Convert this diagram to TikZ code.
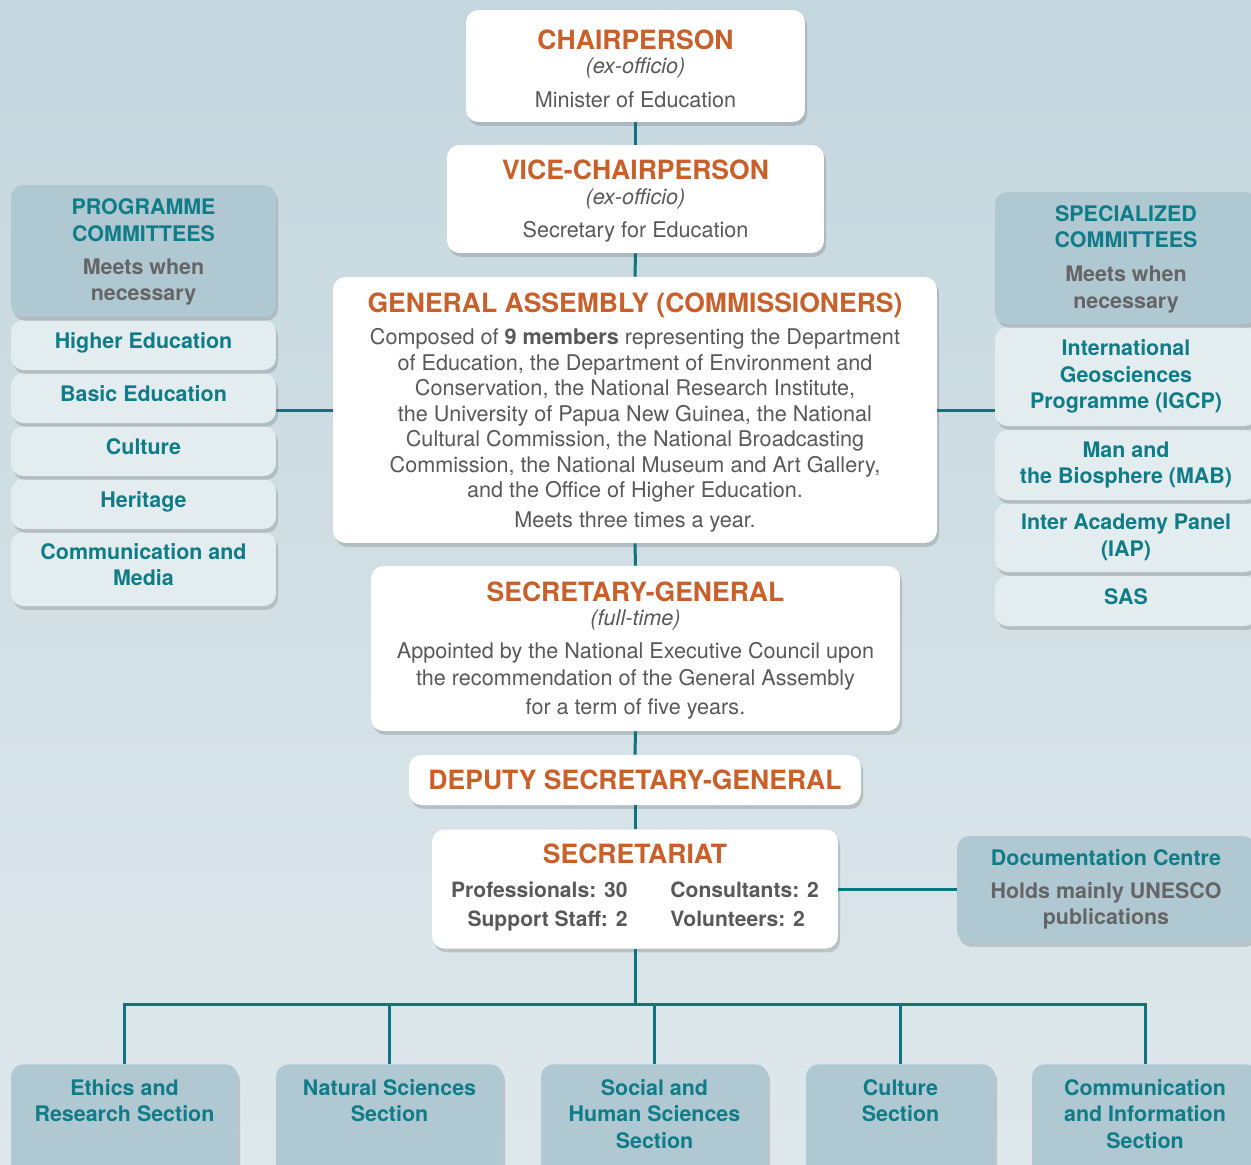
\documentclass[tikz,border=0pt]{standalone}
\usepackage{fontspec}
\setmainfont{TeX Gyre Heros}
\usetikzlibrary{shadows}

\definecolor{bgtop}{HTML}{C4D6DE}
\definecolor{bgbot}{HTML}{DEE8EC}
\definecolor{boxdark}{HTML}{AFC8D2}
\definecolor{boxlight}{HTML}{E3ECEF}
\definecolor{tealtxt}{HTML}{0F7C87}
\definecolor{tealline}{HTML}{0D7480}
\definecolor{orangetxt}{HTML}{C8602B}
\definecolor{graytxt}{HTML}{595959}
\definecolor{graymeet}{HTML}{656565}

\newcommand{\boxtitle}[1]{{\fontsize{15.1}{18}\selectfont\bfseries\color{orangetxt}#1}}
\newcommand{\meet}[1]{{\color{graymeet}#1}}

\begin{document}
\begin{tikzpicture}[x=0.02cm, y=-0.02cm,
  every node/.style={font=\fontsize{12.3}{15}\selectfont, align=center},
  box/.style={rounded corners=7pt, inner sep=0pt,
    drop shadow={shadow xshift=1.2pt, shadow yshift=-2.2pt, opacity=0.22, fill=black!70}},
  mainbox/.style={box, fill=white, text=graytxt},
  headbox/.style={box, fill=boxdark, text=tealtxt, font=\fontsize{12.2}{15}\selectfont\bfseries, text depth=1.5pt},
  itembox/.style={box, fill=boxlight, text=tealtxt, font=\fontsize{12.2}{15}\selectfont\bfseries, text depth=4.8pt},
  secbox/.style={box, fill=boxdark, anchor=north, minimum height=2.6cm},
  sectext/.style={anchor=north, inner sep=0pt, yshift=-8.6pt, text=tealtxt,
    font=\fontsize{12.2}{15}\selectfont\bfseries},
  link/.style={draw=tealline, line width=1.7pt}]

% Canvas
\useasboundingbox (0,0) rectangle (1251,1164);
\clip (0,0) rectangle (1251,1164);
\shade[top color=bgtop, bottom color=bgbot] (0,0) rectangle (1251,1164);

% Main chain
\node[mainbox, minimum width=6.78cm, minimum height=2.24cm, text height=47.4pt, text depth=0pt] (chair) at (635.5,66)
  {\boxtitle{CHAIRPERSON}\\[-1.2pt] \textit{(ex-officio)}\\[4.2pt] Minister of Education};
\node[mainbox, minimum width=7.54cm, minimum height=2.16cm, text depth=0pt] (vice) at (635.5,199)
  {\boxtitle{VICE-CHAIRPERSON}\\[-1.2pt] \textit{(ex-officio)}\\[4.2pt] Secretary for Education};
\node[mainbox, minimum width=12.08cm, minimum height=5.32cm, text depth=0pt,
  font=\fontsize{12.3}{14.5}\selectfont] (assembly) at (635,410)
  {\boxtitle{GENERAL ASSEMBLY (COMMISSIONERS)}\\[3.9pt]
   Composed of \textbf{9 members} representing the Department\\
   of Education, the Department of Environment and\\
   Conservation, the National Research Institute,\\
   the University of Papua New Guinea, the National\\
   Cultural Commission, the National Broadcasting\\
   Commission, the National Museum and Art Gallery,\\
   and the Office of Higher Education.\\[2.5pt]
   Meets three times a year.};
\node[mainbox, minimum width=10.58cm, minimum height=3.3cm, text depth=0.8pt] (secgen) at (635.5,648.5)
  {\boxtitle{SECRETARY-GENERAL}\\[-1.4pt] \textit{(full-time)}\\[4.3pt]
   Appointed by the National Executive Council upon\\
   the recommendation of the General Assembly\\[1.4pt]
   for a term of five years.};
\node[mainbox, minimum width=9.04cm, minimum height=1cm] (deputy) at (635,780)
  {\boxtitle{DEPUTY SECRETARY-GENERAL}};
\node[mainbox, minimum width=8.12cm, minimum height=2.38cm] (secretariat) at (635,889)
  {\boxtitle{SECRETARIAT}\\[4.3pt]
   \fontsize{12}{15}\selectfont\bfseries\begin{tabular}[t]{@{}r@{\hspace{24.4pt}}l@{}}
   Professionals: 30 & Consultants: 2\\[1.4pt]
   Support Staff: 2 & Volunteers: 2
   \end{tabular}};

% Documentation centre
\node[headbox, minimum width=5.96cm, minimum height=2.14cm, text depth=2.6pt] (doccentre) at (1106,889.5)
  {Documentation Centre\\[3.7pt] \meet{Holds mainly UNESCO}\\ \meet{publications}};

% Programme committees (bottom up, so shadows fall on the box below)
\node[itembox, minimum width=5.3cm, minimum height=1.48cm] (commedia) at (143.5,569) {Communication and\\Media};
\node[itembox, minimum width=5.3cm, minimum height=1cm] (heritage) at (143.5,504) {Heritage};
\node[itembox, minimum width=5.3cm, minimum height=1cm] (culture) at (143.5,451) {Culture};
\node[itembox, minimum width=5.3cm, minimum height=1cm] (basic) at (143.5,398) {Basic Education};
\node[itembox, minimum width=5.3cm, minimum height=1cm] (higher) at (143.5,345) {Higher Education};
\node[headbox, minimum width=5.3cm, minimum height=2.64cm] (progcom) at (143.5,251)
  {PROGRAMME\\[0.3pt] COMMITTEES\\[3.7pt] \meet{Meets when}\\ \meet{necessary}};

% Specialized committees
\node[itembox, minimum width=5.24cm, minimum height=1cm] (sas) at (1126,601) {SAS};
\node[itembox, minimum width=5.24cm, minimum height=1.38cm, text depth=2.6pt] (iap) at (1126,537.5) {Inter Academy Panel\\(IAP)};
\node[itembox, minimum width=5.24cm, minimum height=1.4cm, text depth=2.6pt] (mab) at (1126,465) {Man and\\the Biosphere (MAB)};
\node[itembox, minimum width=5.24cm, minimum height=1.98cm, text depth=2.6pt] (igcp) at (1126,376.5)
  {International\\Geosciences\\Programme (IGCP)};
\node[headbox, minimum width=5.24cm, minimum height=2.64cm] (speccom) at (1126,258)
  {SPECIALIZED\\ COMMITTEES\\[4.5pt] \meet{Meets when}\\ \meet{necessary}};

% Sections
\node[secbox, minimum width=4.54cm, label={[sectext]north:Ethics and\\Research Section}] (ethics) at (124.5,1064) {};
\node[secbox, minimum width=4.54cm, label={[sectext]north:Natural Sciences\\Section}] (natsci) at (389.5,1064) {};
\node[secbox, minimum width=4.54cm, label={[sectext]north:Social and\\Human Sciences\\Section}] (social) at (654.5,1064) {};
\node[secbox, minimum width=3.78cm, label={[sectext]north:Culture\\Section}] (cultsec) at (900.5,1064) {};
\node[secbox, minimum width=4.52cm, label={[sectext]north:Communication\\and Information\\Section}] (comminfo) at (1145,1064) {};

% Connectors
\draw[link] (chair.south) -- (vice.north);
\draw[link] (vice.south) -- (assembly.north);
\draw[link] (assembly.south) -- (secgen.north);
\draw[link] (secgen.south) -- (deputy.north);
\draw[link] (deputy.south) -- (secretariat.north);
\draw[link] (assembly.west) -- (assembly.west -| basic.east);
\draw[link] (assembly.east) -- (assembly.east -| igcp.west);
\draw[link] (secretariat.east) -- (secretariat.east -| doccentre.west);
\coordinate (hub) at (635,1004);
\draw[link] (secretariat.south) -- (hub);
\foreach \s in {ethics,natsci,social,cultsec,comminfo}
  \draw[link] (hub) -| (\s.north);
\end{tikzpicture}
\end{document}
